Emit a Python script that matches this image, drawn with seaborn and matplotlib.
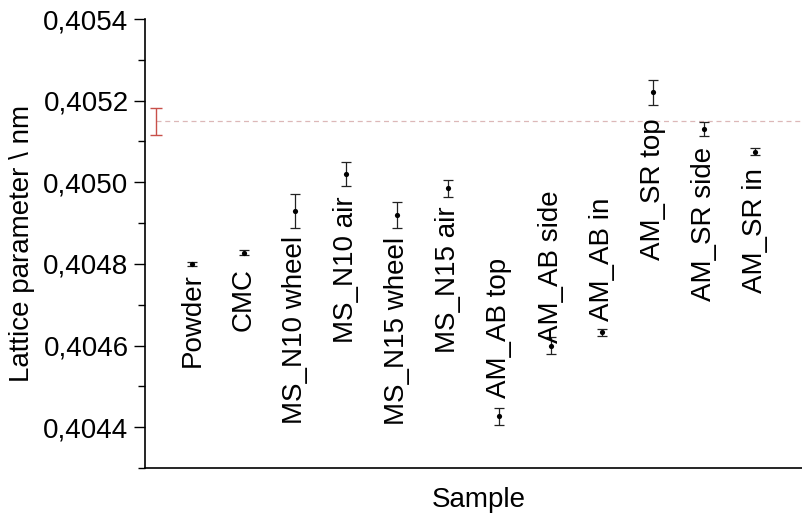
import matplotlib
matplotlib.use("Agg")
import matplotlib.pyplot as plt
import seaborn as sns
import pandas as pd
from matplotlib.ticker import FuncFormatter, MultipleLocator

samples = ["Powder", "CMC", "MS_N10 wheel", "MS_N10 air", "MS_N15 wheel", "MS_N15 air",
           "AM_AB top", "AM_AB side", "AM_AB in", "AM_SR top", "AM_SR side", "AM_SR in"]
lattice = [0.404800, 0.404827, 0.404930, 0.405020, 0.404920, 0.404985,
           0.404427, 0.404600, 0.404632, 0.405220, 0.405130, 0.405075]
errors = [0.000004, 0.000006, 0.000042, 0.000030, 0.000032, 0.000020,
          0.000021, 0.000020, 0.000008, 0.000030, 0.000017, 0.000008]

ref_value = 0.40515
ref_error = 0.000033

# label layout (style only): side of the point and gap in pixels
label_side = ["below"] * 6 + ["above"] * 3 + ["below"] * 3
label_gap_px = [9, 15, 25, 22, 22, 18, 18, 3, 11, 26, 18, 16]

df = pd.DataFrame({"pos": list(range(1, len(samples) + 1)), "sample": samples,
                   "a": lattice, "err": errors})

sns.set_style("ticks")
plt.rcParams["font.family"] = ["Liberation Sans", "DejaVu Sans"]
plt.rcParams["text.color"] = "black"
plt.rcParams["axes.labelcolor"] = "black"
plt.rcParams["ytick.color"] = "black"
plt.rcParams["xtick.color"] = "black"

fig = plt.figure(figsize=(8.03, 5.17), dpi=100)
ax = fig.add_axes([0.18, 0.0948, 0.82, 0.8684])

ref_x = 0.28
ax.hlines(ref_value, ref_x, 13.5, colors="#dcb8b8", linestyles=(0, (4, 3)), linewidth=0.9, zorder=1)
ax.errorbar([ref_x], [ref_value], yerr=[ref_error], fmt="none", ecolor="#c8504a",
            elinewidth=1.0, capsize=4.5, capthick=1.0, zorder=2)

ax.errorbar(df["pos"], df["a"], yerr=df["err"], fmt="none", ecolor="#222222",
            elinewidth=0.9, capsize=3.5, capthick=0.9, zorder=2)
sns.scatterplot(data=df, x="pos", y="a", ax=ax, color="black", s=14, edgecolor="black",
                linewidth=0, zorder=3, legend=False)

for i, r in df.iterrows():
    gap = label_gap_px[i] * 0.72
    if label_side[i] == "below":
        ax.annotate(r["sample"], (r["pos"], r["a"]), xytext=(0, -gap),
                    textcoords="offset points", rotation=90, ha="center", va="top",
                    fontsize=20)
    else:
        ax.annotate(r["sample"], (r["pos"], r["a"]), xytext=(0, gap),
                    textcoords="offset points", rotation=90, ha="center", va="bottom",
                    fontsize=20)

ax.set_xlim(0.065, 12.93)
ax.set_ylim(0.40430, 0.40540)
ax.yaxis.set_major_locator(MultipleLocator(0.0002))
ax.yaxis.set_minor_locator(MultipleLocator(0.0001))
ax.yaxis.set_major_formatter(FuncFormatter(lambda v, p: f"{v:.4f}".replace(".", ",")))
ax.set_xticks([])
ax.tick_params(axis="y", which="major", length=8, width=1, labelsize=20, direction="out")
ax.tick_params(axis="y", which="minor", length=5, width=1, direction="out")
for s in ["top", "right"]:
    ax.spines[s].set_visible(False)
for s in ["left", "bottom"]:
    ax.spines[s].set_linewidth(1.2)
    ax.spines[s].set_color("black")

ax.set_xlabel("Sample", fontsize=20, va="top")
ax.xaxis.set_label_coords(0.507, -0.042)
ax.set_ylabel("Lattice parameter \\ nm", fontsize=20, labelpad=6)

fig.savefig("out.png", dpi=100)
